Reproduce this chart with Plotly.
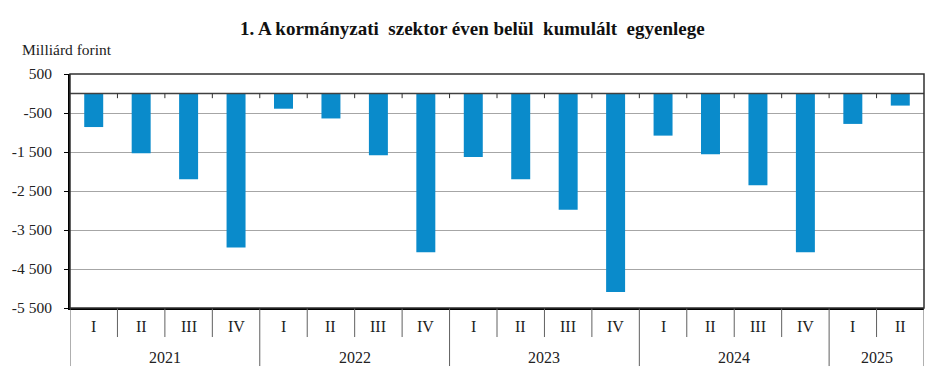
import plotly.graph_objects as go

years = ["2021", "2022", "2023", "2024", "2025"]
quarters = ["I", "II", "III", "IV", "I", "II", "III", "IV", "I", "II", "III", "IV",
            "I", "II", "III", "IV", "I", "II"]
quarter_year = ["2021"] * 4 + ["2022"] * 4 + ["2023"] * 4 + ["2024"] * 4 + ["2025"] * 2
balance = [-860, -1535, -2200, -3950,
           -390, -640, -1585, -4070,
           -1630, -2200, -2980, -5090,
           -1080, -1560, -2355, -4070,
           -780, -310]
y_ticks = [500, -500, -1500, -2500, -3500, -4500, -5500]
y_ticktext = ["500", "-500", "-1 500", "-2 500", "-3 500", "-4 500", "-5 500"]

FONT = "Liberation Serif"
BAR = "#0a8bcb"

x = list(range(len(balance)))
fig = go.Figure(go.Bar(x=x, y=balance, marker=dict(color=BAR, line=dict(width=0)),
                       width=0.4, showlegend=False))

shapes = []
# zero line
shapes.append(dict(type="line", xref="paper", yref="y", x0=0, x1=1, y0=0, y1=0,
                   line=dict(color="#404040", width=1.5), layer="above"))
# small ticks on zero line at category boundaries
for i in range(len(x) - 1):
    shapes.append(dict(type="line", xref="x", yref="y", x0=i + 0.5, x1=i + 0.5,
                       y0=0, y1=-120, line=dict(color="#303030", width=1)))
# quarter / year dividers below plot
for i in range(len(x) + 1):
    xb = i - 0.5
    is_year = i == 0 or i == len(x) or quarter_year[i] != quarter_year[i - 1]
    shapes.append(dict(type="line", xref="x", yref="paper", x0=xb, x1=xb,
                       y0=0, y1=-0.248 if is_year else -0.124,
                       line=dict(color="#606060", width=1)))

annotations = []
for i, q in enumerate(quarters):
    annotations.append(dict(x=i, y=-0.08, xref="x", yref="paper", text=q, showarrow=False,
                            font=dict(family=FONT, size=16, color="#222"),
                            xanchor="center", yanchor="middle"))
for yr in years:
    idx = [i for i, v in enumerate(quarter_year) if v == yr]
    annotations.append(dict(x=(idx[0] + idx[-1]) / 2, y=-0.21, xref="x", yref="paper",
                            text=yr, showarrow=False,
                            font=dict(family=FONT, size=16, color="#222"),
                            xanchor="center", yanchor="middle"))
annotations.append(dict(x=-0.0585, y=1.1026, xref="paper", yref="paper",
                        text="Milliárd forint", showarrow=False,
                        font=dict(family=FONT, size=15.5, color="#222"),
                        xanchor="left", yanchor="middle"))

# page has an 8px body margin, so the figure is shrunk and shifted accordingly
fig.update_layout(
    width=938, height=371,
    margin=dict(l=62, r=22, t=66, b=71, autoexpand=False),
    paper_bgcolor="white", plot_bgcolor="white",
    title=dict(text="<b>1. A kormányzati  szektor éven belül  kumulált  egyenlege</b>",
               x=0.495, xanchor="center", y=1 - 20 / 371, yanchor="middle",
               font=dict(family=FONT, size=19, color="#111")),
    xaxis=dict(range=[-0.5, len(x) - 0.5], showticklabels=False, showgrid=False,
               zeroline=False, showline=True, linecolor="black", linewidth=2,
               mirror=False, fixedrange=True, automargin=False),
    yaxis=dict(range=[-5500, 500], tickvals=y_ticks, ticktext=y_ticktext,
               showgrid=True, gridcolor="#a6a6a6", gridwidth=1, zeroline=False,
               showline=True, linecolor="black", linewidth=2, ticks="outside",
               ticklen=4, tickcolor="black", ticklabelstandoff=9, automargin=False,
               tickfont=dict(family=FONT, size=15.5, color="#222")),
    shapes=shapes + [dict(type="rect", xref="paper", yref="paper", x0=0, x1=1, y0=0, y1=1,
                          line=dict(color="#303030", width=1.5), layer="above")],
    annotations=annotations,
    bargap=0.6,
)
fig.write_html("out.html")
